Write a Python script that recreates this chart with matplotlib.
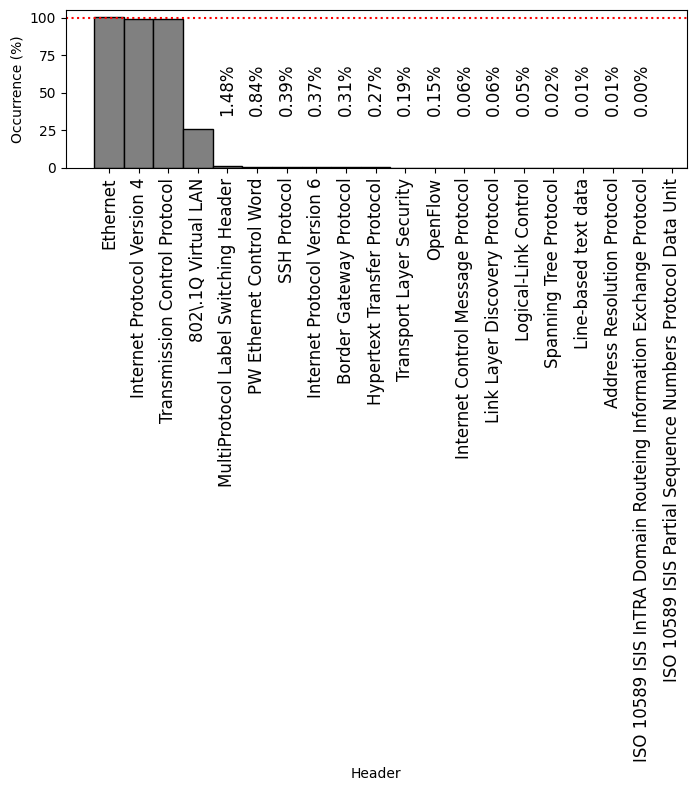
import matplotlib.pyplot as plt
import numpy as np

# header names and occurrence (%)
headers = [
    'Ethernet',
    'Internet Protocol Version 4',
    'Transmission Control Protocol',
    '802\\.1Q Virtual LAN',
    'MultiProtocol Label Switching Header',
    'PW Ethernet Control Word',
    'SSH Protocol',
    'Internet Protocol Version 6',
    'Border Gateway Protocol',
    'Hypertext Transfer Protocol',
    'Transport Layer Security',
    'OpenFlow',
    'Internet Control Message Protocol',
    'Link Layer Discovery Protocol',
    'Logical-Link Control',
    'Spanning Tree Protocol',
    'Line-based text data',
    'Address Resolution Protocol',
    'ISO 10589 ISIS InTRA Domain Routeing Information Exchange Protocol',
    'ISO 10589 ISIS Partial Sequence Numbers Protocol Data Unit',
]
occurrence = [100.6, 99.1, 99.0, 25.9, 1.48, 0.84, 0.39, 0.37, 0.31, 0.27,
              0.19, 0.15, 0.06, 0.06, 0.05, 0.02, 0.01, 0.01, 0.004, 0.0]
# which bars get a percentage label
labelled = list(range(4, 19))

fig, ax = plt.subplots(figsize=(6.95, 7.92), dpi=100)
x = np.arange(len(headers))
ax.bar(x, occurrence, width=1.0, color='grey', edgecolor='black')
ax.axhline(100, color='red', linestyle=':')

for i in labelled:
    ax.text(x[i], 52, f'{occurrence[i]:.2f}%', rotation=90,
            ha='center', va='center', fontsize=12)

ax.set_xticks(x)
ax.set_xticklabels(headers, rotation=90, fontsize=12)
ax.set_xlim(-1.45, 19.5)
ax.set_ylim(0, 105.6)
ax.set_yticks([0, 25, 50, 75, 100])
ax.set_xlabel('Header')
ax.set_ylabel('Occurrence (%)')
fig.subplots_adjust(left=0.095, right=0.988, top=0.988, bottom=0.788)
plt.savefig('out.png')
